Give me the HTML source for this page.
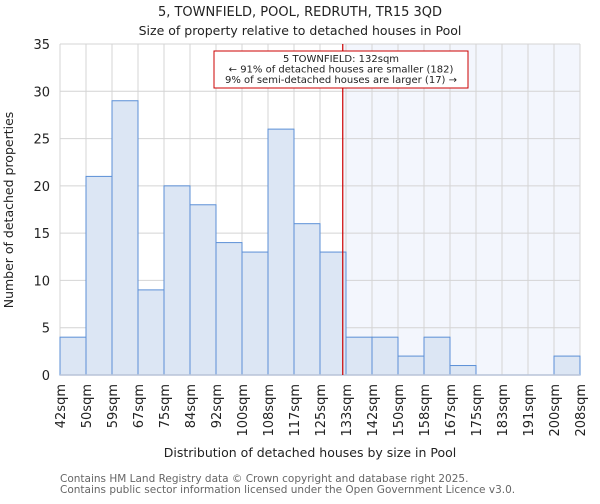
<!DOCTYPE html>
<html><head><meta charset="utf-8"><style>
body{margin:0;background:#fff;font-family:"DejaVu Sans","Liberation Sans",sans-serif;}
</style></head><body>
<svg width="600" height="500" xmlns="http://www.w3.org/2000/svg" font-family="DejaVu Sans, Liberation Sans, sans-serif">
<text x="300" y="16" text-anchor="middle" font-size="13" fill="#222">5, TOWNFIELD, POOL, REDRUTH, TR15 3QD</text>
<text x="300" y="35" text-anchor="middle" font-size="12.5" fill="#222">Size of property relative to detached houses in Pool</text>
<g id="plot"></g>
<text x="310" y="457" text-anchor="middle" font-size="12.5" fill="#222">Distribution of detached houses by size in Pool</text>
<text transform="translate(13,210) rotate(-90)" text-anchor="middle" font-size="12.5" fill="#222">Number of detached properties</text>
<text x="60" y="482" font-size="10.5" fill="#666">Contains HM Land Registry data © Crown copyright and database right 2025.</text>
<text x="60" y="493" font-size="10.5" fill="#666">Contains public sector information licensed under the Open Government Licence v3.0.</text>
</svg>
<script>
const categories=["42sqm","50sqm","59sqm","67sqm","75sqm","84sqm","92sqm","100sqm","108sqm","117sqm","125sqm","133sqm","142sqm","150sqm","158sqm","167sqm","175sqm","183sqm","191sqm","200sqm","208sqm"];
const counts=[4,21,29,9,20,18,14,13,26,16,13,4,4,2,4,1,0,0,0,2];
const yTicks=[0,5,10,15,20,25,30,35];
const markerIndex=10.875;
const NS="http://www.w3.org/2000/svg";
const g=document.getElementById('plot');
const X0=60,X1=580,Y0=375,Y1=44,YMAX=35;
const bw=(X1-X0)/counts.length;
const xs=i=>X0+i*bw;
const ys=v=>Y0-(v/YMAX)*(Y0-Y1);
function mk(t,a){const e=document.createElementNS(NS,t);for(const k in a)e.setAttribute(k,a[k]);g.appendChild(e);return e;}
const mx=xs(markerIndex);
let e=mk('rect',{x:mx,y:Y1,width:X1-mx,height:Y0-Y1,fill:'#f3f6fd'});


yTicks.forEach(v=>{
 let l=mk('line',{x1:X0,x2:X1,y1:ys(v),y2:ys(v),stroke:'#d4d4d4'});
 
 
 let t=mk('text',{x:X0-10,y:ys(v)+5,'text-anchor':'end','font-size':13,fill:'#222'});t.textContent=v;
 
 
});
categories.forEach((c,i)=>{
 let l=mk('line',{x1:xs(i),x2:xs(i),y1:Y1,y2:Y0,stroke:'#d4d4d4'});
 
 
 let t=mk('text',{transform:`translate(${xs(i)+5},384) rotate(-90)`,'text-anchor':'end','font-size':13,fill:'#222'});t.textContent=c;
 
 
});
counts.forEach((v,i)=>{
 if(v<=0)return;
 let r=mk('rect',{x:xs(i),y:ys(v),width:bw,height:Y0-ys(v),fill:'#dce6f4',stroke:'#5b8fd6','stroke-width':1});
 
 
});
let ax=mk('line',{x1:X0,x2:X1,y1:Y0,y2:Y0,stroke:'#b8c4d8','stroke-width':1.5});


let ml=mk('line',{x1:mx,x2:mx,y1:Y1,y2:Y0,stroke:'#cc0000','stroke-width':1.2});


let box=mk('rect',{x:214,y:51,width:254,height:37,fill:'#fff',stroke:'#cc0000','stroke-width':1});


["5 TOWNFIELD: 132sqm","← 91% of detached houses are smaller (182)","9% of semi-detached houses are larger (17) →"].forEach((s,k)=>{
 let t=mk('text',{x:341,y:62+k*10.5,'text-anchor':'middle','font-size':10,fill:'#222'});t.textContent=s;
 
 
});
</script>
</body></html>
